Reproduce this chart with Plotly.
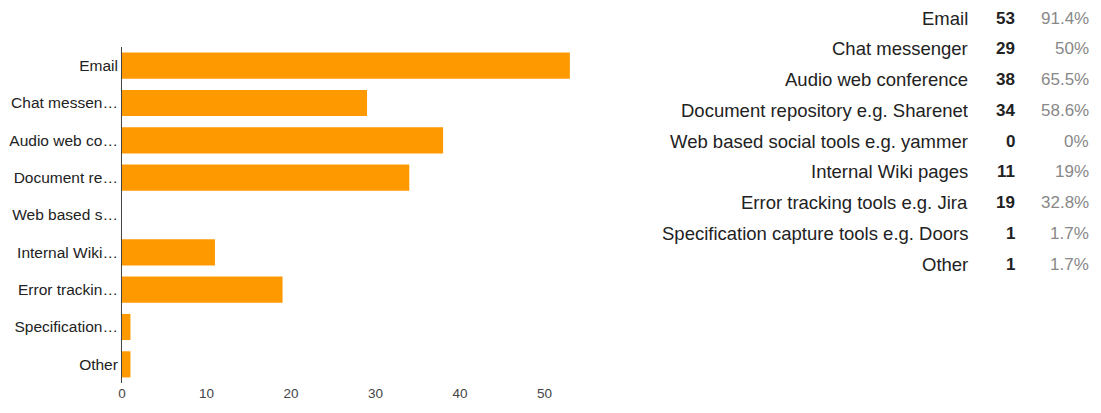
import plotly.graph_objects as go

categories = ["Email", "Chat messenger", "Audio web conference",
              "Document repository e.g. Sharenet", "Web based social tools e.g. yammer",
              "Internal Wiki pages", "Error tracking tools e.g. Jira",
              "Specification capture tools e.g. Doors", "Other"]
tick_labels = ["Email", "Chat messen\u2026", "Audio web co\u2026", "Document re\u2026",
               "Web based s\u2026", "Internal Wiki\u2026", "Error trackin\u2026",
               "Specification\u2026", "Other"]
counts = [53, 29, 38, 34, 0, 11, 19, 1, 1]
percents = ["91.4%", "50%", "65.5%", "58.6%", "0%", "19%", "32.8%", "1.7%", "1.7%"]

W, H = 1101, 413
FONT = "Liberation Sans, Arial, sans-serif"

fig = go.Figure()
fig.add_trace(go.Bar(
    x=counts, y=categories, orientation="h",
    marker=dict(color="#ff9900", line=dict(width=0)),
    width=0.7, hoverinfo="x+y",
))

x_left, x_right = 122, 122 + 56 * 8.45
y_top, y_bot = 47, 383

fig.update_layout(
    width=W, height=H,
    margin=dict(l=0, r=0, t=0, b=0),
    paper_bgcolor="white", plot_bgcolor="white",
    showlegend=False,
    font=dict(family=FONT, size=12, color="#222"),
    xaxis=dict(domain=[x_left / W, x_right / W], range=[0, 56],
               tickvals=[0, 10, 20, 30, 40, 50], showgrid=False, zeroline=False,
               showline=False, ticks="", automargin=False,
               tickfont=dict(size=13.5, color="#444", family=FONT)),
    yaxis=dict(domain=[1 - y_bot / H, 1 - y_top / H],
               categoryorder="array", categoryarray=categories,
               range=[len(categories) - 0.5, -0.5],
               tickvals=categories, ticktext=tick_labels,
               showgrid=False, zeroline=False, showline=True,
               linecolor="#444", linewidth=1, ticks="", automargin=False,
               tickfont=dict(size=15.5, color="#222", family=FONT)),
)

for i, (name, c, p) in enumerate(zip(categories, counts, percents)):
    yy = 1 - (18 + i * 30.75) / H
    fig.add_annotation(xref="paper", yref="paper", x=970 / W, y=yy, text=name,
                       showarrow=False, xanchor="right", yanchor="middle",
                       font=dict(size=18.5, color="#222", family=FONT))
    fig.add_annotation(xref="paper", yref="paper", x=1017 / W, y=yy, text=f"<b>{c}</b>",
                       showarrow=False, xanchor="right", yanchor="middle",
                       font=dict(size=17, color="#222", family=FONT))
    fig.add_annotation(xref="paper", yref="paper", x=1091 / W, y=yy, text=p,
                       showarrow=False, xanchor="right", yanchor="middle",
                       font=dict(size=17, color="#888", family=FONT))

fig.write_html("out.html")
